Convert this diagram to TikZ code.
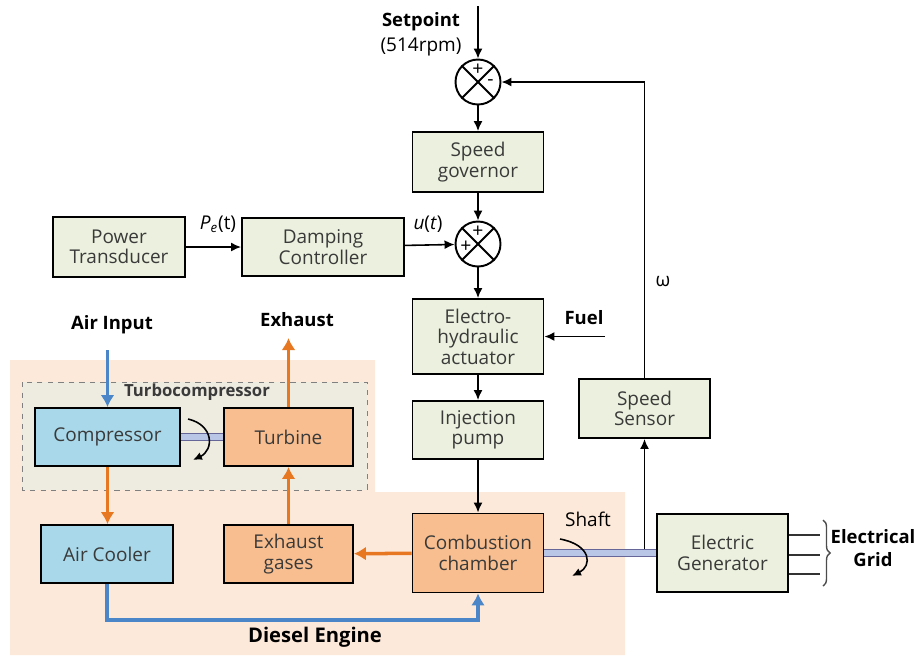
\documentclass[tikz,border=0pt]{standalone}
\usepackage{fontspec}
\setmainfont{Open Sans}
\usetikzlibrary{arrows.meta,decorations.pathreplacing}
\definecolor{boxgreen}{RGB}{235,241,222}
\definecolor{boxblue}{RGB}{168,216,233}
\definecolor{boxorange}{RGB}{248,190,143}
\definecolor{peach}{RGB}{253,233,217}
\definecolor{turbofill}{RGB}{238,236,225}
\definecolor{orangeline}{RGB}{232,119,34}
\definecolor{blueline}{RGB}{74,134,200}
\definecolor{shaftfill}{RGB}{185,198,230}
\definecolor{textgray}{RGB}{58,58,58}
\begin{document}
\begin{tikzpicture}[x=0.02cm,y=-0.02cm,font=\fontsize{10.8}{11.6}\selectfont,
  blk/.style={draw,line width=1.1pt,align=center,text=textgray,inner sep=0pt},
  colbox/.style={blk,fill=boxgreen,minimum width=2.62cm},
  sum/.style={circle,draw,line width=1.1pt,minimum size=0.9cm,inner sep=0pt},
  sign/.style={inner sep=0pt,font=\fontsize{11}{11}\selectfont},
  lbl/.style={font=\fontsize{10.5}{13}\selectfont\bfseries,align=center},
  arr/.style={line width=0.9pt,-{Latex[length=2mm,width=1.8mm]}},
  orangearrow/.style={line width=2pt,orangeline,-{Latex[length=2.4mm,width=2.8mm]}},
  bluearrow/.style={line width=2pt,blueline,-{Latex[length=2.4mm,width=2.8mm]}},
  shaft/.style={draw=gray!80!blue,line width=0.5pt,double=shaftfill,double distance=0.12cm},
  turn/.style={line width=0.9pt,-{Latex[length=1.8mm,width=1.6mm]}}]
\useasboundingbox (0,0) rectangle (919,657);
\fill[peach] (10,360) -- (375,360) -- (375,492) -- (625,492) -- (625,655) -- (10,655) -- cycle;
\draw[dashed,gray,fill=turbofill] (22,382) rectangle (367,490);

\node[sum] (s1) at (478,82){};
\draw[line width=1.1pt] (s1.45) -- (s1.225);
\draw[line width=1.1pt] (s1.135) -- (s1.315);
\node[sign] (s1a) at ([yshift=0.24cm]s1.center){+};
\node[sign] (s1b) at ([xshift=0.25cm,yshift=-0.02cm]s1.center){-};
\node[sum] (s2) at (478,244){};
\draw[line width=1.1pt] (s2.45) -- (s2.225);
\draw[line width=1.1pt] (s2.135) -- (s2.315);
\node[sign] (s2a) at ([yshift=0.24cm]s2.center){+};
\node[sign] (s2b) at ([xshift=-0.24cm,yshift=-0.05cm]s2.center){+};

\node[colbox,minimum height=1.2cm] (sg) at (478,162){Speed\\governor};
\node[colbox,minimum height=1.5cm] (eha) at (478,336.5){Electro-\\hydraulic\\actuator};
\node[colbox,minimum height=1.16cm] (ip) at (478,430){Injection\\pump};
\node[blk,fill=boxorange,minimum width=2.62cm,minimum height=1.58cm] (cc) at (478,553){Combustion\\chamber};
\node[blk,fill=boxgreen,minimum width=2.64cm,minimum height=1.2cm] (pt) at (119,247){Power\\Transducer};
\node[blk,fill=boxgreen,minimum width=3.24cm,minimum height=1.16cm] (dc) at (323,247){Damping\\Controller};
\node[colbox,minimum height=1.18cm] (ss) at (644.5,408.5){Speed\\Sensor};
\node[colbox,minimum height=1.56cm] (gen) at (722.5,553){Electric\\Generator};
\node[blk,fill=boxblue,minimum width=2.9cm,minimum height=1.16cm] (comp) at (107.5,437){Compressor};
\node[blk,fill=boxorange,minimum width=2.58cm,minimum height=1.16cm] (turb) at (288.5,437){Turbine};
\node[blk,fill=boxblue,minimum width=2.64cm,minimum height=1.16cm] (ac) at (107,554){Air Cooler};
\node[blk,fill=boxorange,minimum width=2.58cm,minimum height=1.16cm] (eg) at (288.5,554){Exhaust\\gases};

\node[lbl] (spt) at (421,22){Setpoint};
\node (rpm) at (421,47){(514rpm)};
\coordinate (spin) at (478,6);
\draw[arr] (spin) -- (s1.north);
\draw[arr] (s1) -- (sg);
\draw[arr] (sg) -- (s2);
\draw[arr] (s2) -- (eha);
\draw[arr] (eha) -- (ip);
\draw[arr] (ip) -- (cc);
\draw[arr] (pt) -- (dc);
\draw[arr] (dc) -- (s2);
\node (pe) at (218,224){\textit{P}\textsubscript{\textit{e}}(t)};
\node (ut) at (428,224){\textit{u}(\textit{t})};
\coordinate (fuel) at (605,336.5);
\draw[arr] (fuel) -- (eha);
\node[lbl] (fl) at (584,318){Fuel};
\draw[arr] (ss.north) |- (s1.east);
\node (om) at (663,282){ω};

\draw[arr] (ss.south |- cc.center) -- (ss.south);
\draw[shaft] (cc) -- (gen);
\draw[shaft] (comp) -- (turb);
\node (sh) at (588,519){Shaft};
\draw[turn] (560,539) .. controls (592,545) and (592,566) .. (572,576);
\draw[turn] (188,419) .. controls (214,425) and (214,450) .. (193,460);

\coordinate (g1) at (820,535);
\coordinate (g2) at (820,555);
\coordinate (g3) at (820,574);
\draw[line width=1pt,gray!40!black] (g1 -| gen.east) -- (g1);
\draw[line width=1pt,gray!40!black] (g2 -| gen.east) -- (g2);
\draw[line width=1pt,gray!40!black] (g3 -| gen.east) -- (g3);
\draw[decorate,decoration={brace,amplitude=4pt},line width=0.8pt,gray!60!black] (823,520) -- (823,586);
\node[lbl] (grid) at (873,548){Electrical\\Grid};

\node[lbl] (ai) at (112,325){Air Input};
\coordinate (airin) at (107.5,350);
\draw[bluearrow] (airin) -- (comp.north);
\node[lbl] (ex) at (297,320){Exhaust};
\coordinate (exh) at (288.5,338);
\draw[orangearrow] (turb.north) -- (exh);
\node[font=\fontsize{9.5}{10}\selectfont\bfseries,text=textgray] (tc) at (197,392){Turbocompressor};
\draw[orangearrow] (comp.south) -- (ac.north -| comp.south);
\draw[orangearrow] (eg) -- (turb);
\draw[orangearrow] (cc) -- (eg);
\coordinate (ret) at (478,620);
\draw[bluearrow] (ac.south) |- (ret) -- (cc.south);
\node[font=\fontsize{11.5}{12}\selectfont\bfseries] (de) at (315,637){Diesel Engine};
\end{tikzpicture}
\end{document}
